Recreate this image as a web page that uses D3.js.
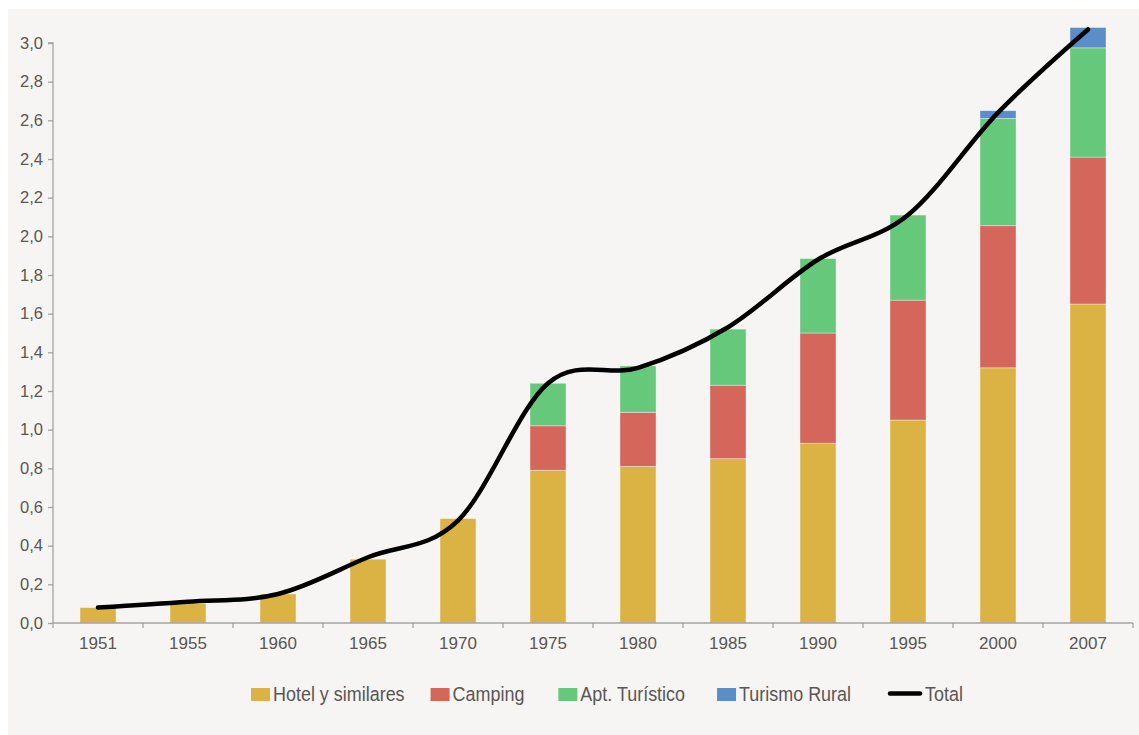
<!DOCTYPE html>
<html>
<head>
<meta charset="utf-8">
<script src="https://cdn.jsdelivr.net/npm/d3@7"></script>
<style>
  html, body { margin: 0; padding: 0; background: #ffffff; }
  svg { display: block; }
</style>
</head>
<body>
<svg id="chart" width="1139" height="735"></svg>
<script>
// Plazas de alojamiento turístico por tipo (millones)
const years = ["1951", "1955", "1960", "1965", "1970", "1975", "1980", "1985", "1990", "1995", "2000", "2007"];
const hotel    = [0.08, 0.10, 0.15, 0.33, 0.54, 0.79, 0.81, 0.85, 0.93, 1.05, 1.32, 1.65];
const camping  = [0, 0, 0, 0, 0, 0.23, 0.28, 0.38, 0.57, 0.62, 0.735, 0.76];
const apt      = [0, 0, 0, 0, 0, 0.22, 0.24, 0.29, 0.385, 0.44, 0.555, 0.565];
const rural    = [0, 0, 0, 0, 0, 0, 0, 0, 0, 0, 0.04, 0.105];
const total    = [0.08, 0.11, 0.15, 0.34, 0.53, 1.24, 1.32, 1.53, 1.88, 2.11, 2.64, 3.07];
const yTicks   = [0, 0.2, 0.4, 0.6, 0.8, 1.0, 1.2, 1.4, 1.6, 1.8, 2.0, 2.2, 2.4, 2.6, 2.8, 3.0];

const seriesNames  = ["Hotel y similares", "Camping", "Apt. Turístico", "Turismo Rural"];
const seriesColors = ["#dbb345", "#d5665b", "#66c87b", "#5b8dc8"];

(function () {
  const svg = d3.select("#chart");
  const W = 1139, H = 735;
  const plotL = 53, plotR = 1133, plotT = 43, plotB = 623;
  const textColor = "#5a5652";
  const axisColor = "#a3a3a3";
  const baseFont = "'Liberation Sans', Arial, Helvetica, sans-serif";

  // panel background
  svg.append("rect")
    .attr("x", 8).attr("y", 9).attr("width", W - 8).attr("height", H - 9)
    .attr("fill", "#f6f5f3");

  const x = d3.scaleBand().domain(years).range([plotL, plotR]).paddingInner(0.6).paddingOuter(0.3);
  const y = d3.scaleLinear().domain([0, 3]).range([plotB, plotT]);

  // stacked bars
  const rows = years.map((yr, i) => ({
    year: yr,
    "Hotel y similares": hotel[i],
    "Camping": camping[i],
    "Apt. Turístico": apt[i],
    "Turismo Rural": rural[i]
  }));
  const stacked = d3.stack().keys(seriesNames)(rows);

  svg.append("g").selectAll("g")
    .data(stacked)
    .join("g")
    .attr("fill", (d, i) => seriesColors[i])
    .selectAll("rect")
    .data(d => d.filter(p => p[1] - p[0] > 0))
    .join("rect")
    .attr("x", d => x(d.data.year))
    .attr("width", x.bandwidth())
    .attr("y", d => y(d[1]))
    .attr("height", d => y(d[0]) - y(d[1]))
    .attr("stroke", "rgba(255,255,255,0.45)")
    .attr("stroke-width", 0.8);

  // y axis
  const fmt = d3.formatLocale({ decimal: ",", thousands: ".", grouping: [3], currency: ["", "€"] }).format(".1f");
  const yAxis = svg.append("g")
    .attr("transform", `translate(${plotL},0)`)
    .call(d3.axisLeft(y).tickValues(yTicks).tickFormat(fmt).tickSize(5).tickPadding(5));
  yAxis.select(".domain").attr("stroke", axisColor).attr("stroke-width", 1.3).attr("d", `M-5,${plotT}H0V${plotB}`);
  yAxis.selectAll(".tick line").attr("stroke", axisColor).attr("stroke-width", 1.3);
  yAxis.selectAll("text")
    .attr("fill", textColor)
    .style("font-family", baseFont)
    .style("font-size", "16.5px");

  // x axis
  const xAxis = svg.append("g")
    .attr("transform", `translate(0,${plotB})`)
    .call(d3.axisBottom(x).tickSize(0).tickPadding(0));
  xAxis.select(".domain").attr("stroke", axisColor).attr("stroke-width", 1.3).attr("d", `M${plotL},0H${plotR}`);
  xAxis.selectAll("text")
    .attr("y", 25.5).attr("dy", null)
    .attr("fill", textColor)
    .style("font-family", baseFont)
    .style("font-size", "17px");

  // category boundary ticks
  const bounds = d3.range(years.length + 1).map(i => plotL + i * x.step());
  xAxis.append("g").selectAll("line")
    .data(bounds)
    .join("line")
    .attr("x1", d => d).attr("x2", d => d)
    .attr("y1", 0).attr("y2", 5)
    .attr("stroke", axisColor).attr("stroke-width", 1.3);

  // total line
  const line = d3.line()
    .x((d, i) => x(years[i]) + x.bandwidth() / 2)
    .y(d => y(d))
    .curve(d3.curveCardinal.tension(0));

  svg.append("path")
    .datum(total)
    .attr("d", line)
    .attr("fill", "none")
    .attr("stroke", "#000")
    .attr("stroke-width", 4.5)
    .attr("stroke-linecap", "round")
    .attr("stroke-linejoin", "round");

  // legend (condensed lettering)
  const legend = svg.append("g");
  const legendItems = seriesNames.map((n, i) => ({ name: n, color: seriesColors[i], type: "rect" }))
    .concat([{ name: "Total", color: "#000", type: "line" }]);
  const squeeze = 0.875;
  let cx = 251;
  const gaps = [26, 34, 32, 37];
  legendItems.forEach((it, i) => {
    const g = legend.append("g");
    let keyW;
    if (it.type === "rect") {
      keyW = 19;
      g.append("rect").attr("x", cx).attr("y", 688).attr("width", keyW).attr("height", 13).attr("fill", it.color);
    } else {
      keyW = 34;
      g.append("line").attr("x1", cx + 2).attr("x2", cx + keyW - 2).attr("y1", 693.5).attr("y2", 693.5)
        .attr("stroke", "#000").attr("stroke-width", 4.5).attr("stroke-linecap", "round");
    }
    const t = g.append("text")
      .attr("x", cx + keyW + 3)
      .attr("y", 701)
      .attr("fill", textColor)
      .style("font-family", baseFont)
      .style("font-size", "20.5px")
      .text(it.name);
    const w = t.node().getComputedTextLength() * squeeze;
    t.attr("textLength", w).attr("lengthAdjust", "spacingAndGlyphs");
    cx = cx + keyW + 3 + w + (gaps[i] || 0);
  });
})();
</script>
</body>
</html>
